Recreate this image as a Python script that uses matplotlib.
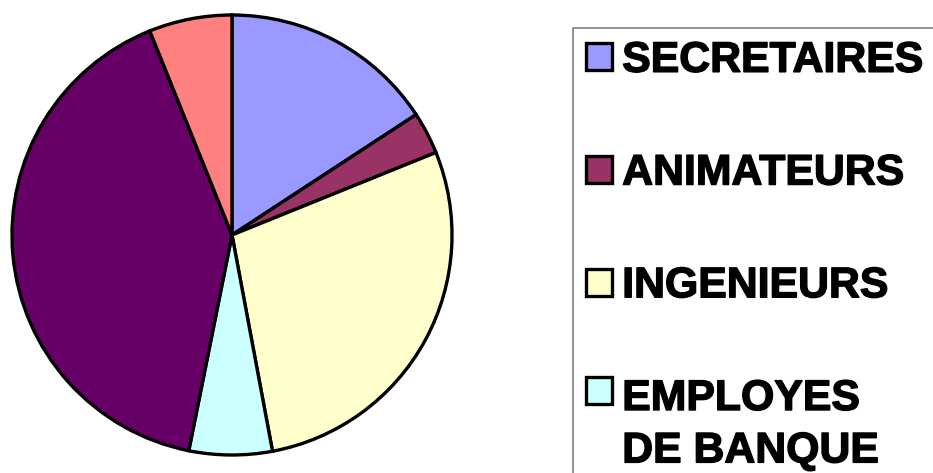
import matplotlib
matplotlib.use("Agg")
import matplotlib.pyplot as plt
from matplotlib.patches import Rectangle
from matplotlib.legend_handler import HandlerPatch
import matplotlib.patheffects as pe

# Share of each profession (percent), clockwise from 12 o'clock
categories = ["SECRETAIRES", "ANIMATEURS", "INGENIEURS", "EMPLOYES\nDE BANQUE"]
values = [15.8, 3.1, 28.2, 6.1, 40.8, 6.1]
colors = ["#9999FF", "#993366", "#FFFFCC", "#CCFFFF", "#660066", "#FF8080"]

W, H, DPI = 933, 473, 100
fig = plt.figure(figsize=(W / DPI, H / DPI), dpi=DPI)
fig.patch.set_facecolor("white")

# pie: centre (232, 235) px, radius 220 px
cx, cy, r, pad = 232, 235, 220, 8
ax = fig.add_axes([(cx - r - pad) / W, (H - cy - r - pad) / H,
                   2 * (r + pad) / W, 2 * (r + pad) / H])
wedges, _ = ax.pie(values, colors=colors, startangle=90, counterclock=False,
                   wedgeprops=dict(edgecolor="black", linewidth=2.4))
lim = (r + pad) / r
ax.set_xlim(-lim, lim)
ax.set_ylim(-lim, lim)
ax.set_aspect("equal")
ax.axis("off")

FS = 30.8
LINESPACING = 1.40


def first_line_square(legend, orig_handle, xdescent, ydescent, width, height, fontsize):
    # keep the key beside the first line of a two-line label
    shift = 0.807 * fontsize * LINESPACING - 9.4
    return Rectangle((-xdescent, -ydescent + shift), width, height)


leg = fig.legend(wedges[:4], categories, loc="upper left",
                 bbox_to_anchor=(573 / W, 1 - 28 / H),
                 bbox_transform=fig.transFigure,
                 prop=dict(family="Liberation Sans", weight="bold", size=FS),
                 frameon=False, borderpad=0.3, borderaxespad=0,
                 labelspacing=1.70,
                 handlelength=0.6, handleheight=0.6, handletextpad=0.25,
                 handler_map={wedges[3]: HandlerPatch(patch_func=first_line_square)})
for h in leg.legend_handles:
    h.set_linewidth(2.4)
    h.set_edgecolor("black")
for t in leg.get_texts():
    t.set_path_effects([pe.withStroke(linewidth=1.0, foreground="black")])
leg.get_texts()[3].set_linespacing(LINESPACING)

# legend box, running past the right and bottom edges of the figure
fig.add_artist(Rectangle((573 / W, -0.2), 1.0, 1.2 - 28 / H,
                         transform=fig.transFigure, fill=False,
                         edgecolor="#808080", linewidth=1.2))

fig.savefig("out.png", dpi=DPI, facecolor="white")
